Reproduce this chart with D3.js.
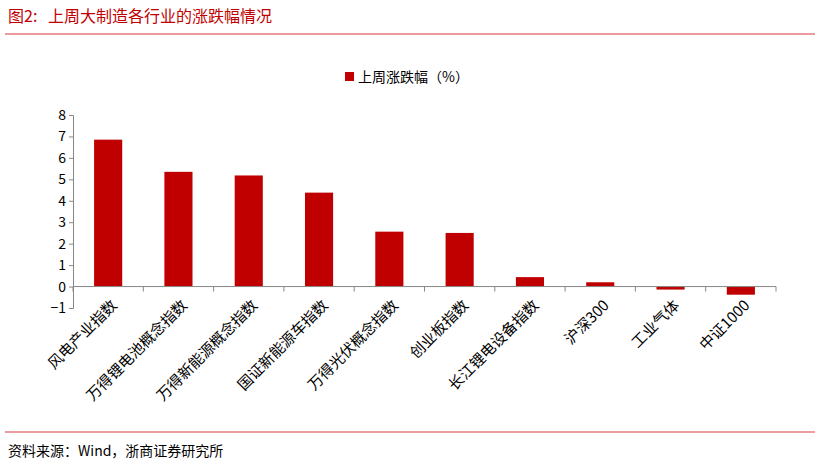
<!DOCTYPE html><html><head><meta charset="utf-8"><script src="https://cdn.jsdelivr.net/npm/d3@7"></script>
<style>body{margin:0;background:#fff}text{font-family:"Noto Sans CJK SC",sans-serif}</style></head><body>
<svg id="c" width="820" height="465"></svg>
<script>
const categories=["风电产业指数","万得锂电池概念指数","万得新能源概念指数","国证新能源车指数","万得光伏概念指数","创业板指数","长江锂电设备指数","沪深300","工业气体","中证1000"];
const values=[6.85,5.35,5.18,4.38,2.56,2.5,0.44,0.2,-0.14,-0.38];
const yTicks=[-1,0,1,2,3,4,5,6,7,8];
const svg=d3.select("#c");
const red="#c00000";
svg.append("text").attr("x",8).attr("y",22).attr("fill","#c00000").attr("font-size",16).attr("xml:space","preserve").text("图2:   上周大制造各行业的涨跌幅情况");
svg.append("line").attr("x1",5).attr("x2",815).attr("y1",34).attr("y2",34).attr("stroke","#d9393e").attr("stroke-width",1.2);
svg.append("line").attr("x1",5).attr("x2",815).attr("y1",432).attr("y2",432).attr("stroke","#d9393e").attr("stroke-width",1.2);
svg.append("text").attr("x",8).attr("y",456).attr("font-size",14).attr("fill","#000").text("资料来源：Wind，浙商证券研究所");
svg.append("rect").attr("x",345).attr("y",72).attr("width",9).attr("height",9).attr("fill",red);
svg.append("text").attr("x",358).attr("y",82).attr("font-size",14).text("上周涨跌幅（%）");
const y=d3.scaleLinear().domain([-1,8]).range([308,115]);
const x=d3.scaleBand().domain(categories).range([73,776]).paddingInner(0.6).paddingOuter(0.3);
const g=svg.append("g");
g.append("g").attr("transform","translate(73,0)").call(d3.axisLeft(y).tickValues(yTicks).tickSize(4).tickFormat(d3.format("d")))
 .call(a=>{a.selectAll("text").attr("font-size",14).attr("fill","#000");a.selectAll("line,path").attr("stroke","#888");});
g.selectAll("rect.b").data(values).join("rect").attr("class","b")
 .attr("x",(d,i)=>x(categories[i])).attr("width",x.bandwidth())
 .attr("y",d=>y(Math.max(0,d))).attr("height",d=>Math.abs(y(d)-y(0))).attr("fill",red);
const xa=g.append("g").attr("transform",`translate(0,${y(0)})`);
const step=(776-73)/categories.length;
xa.append("line").attr("x1",73).attr("x2",776).attr("stroke","#888");
d3.range(categories.length+1).forEach(i=>xa.append("line").attr("x1",73+i*step).attr("x2",73+i*step).attr("y1",0).attr("y2",5).attr("stroke","#888"));
categories.forEach((c,i)=>{const cx=x(c)+x.bandwidth()/2;
 xa.append("text").attr("transform",`translate(${cx+6},16) rotate(-45)`).attr("text-anchor","end").attr("font-size",15).attr("dy","0.35em").text(c);});
</script></body></html>
